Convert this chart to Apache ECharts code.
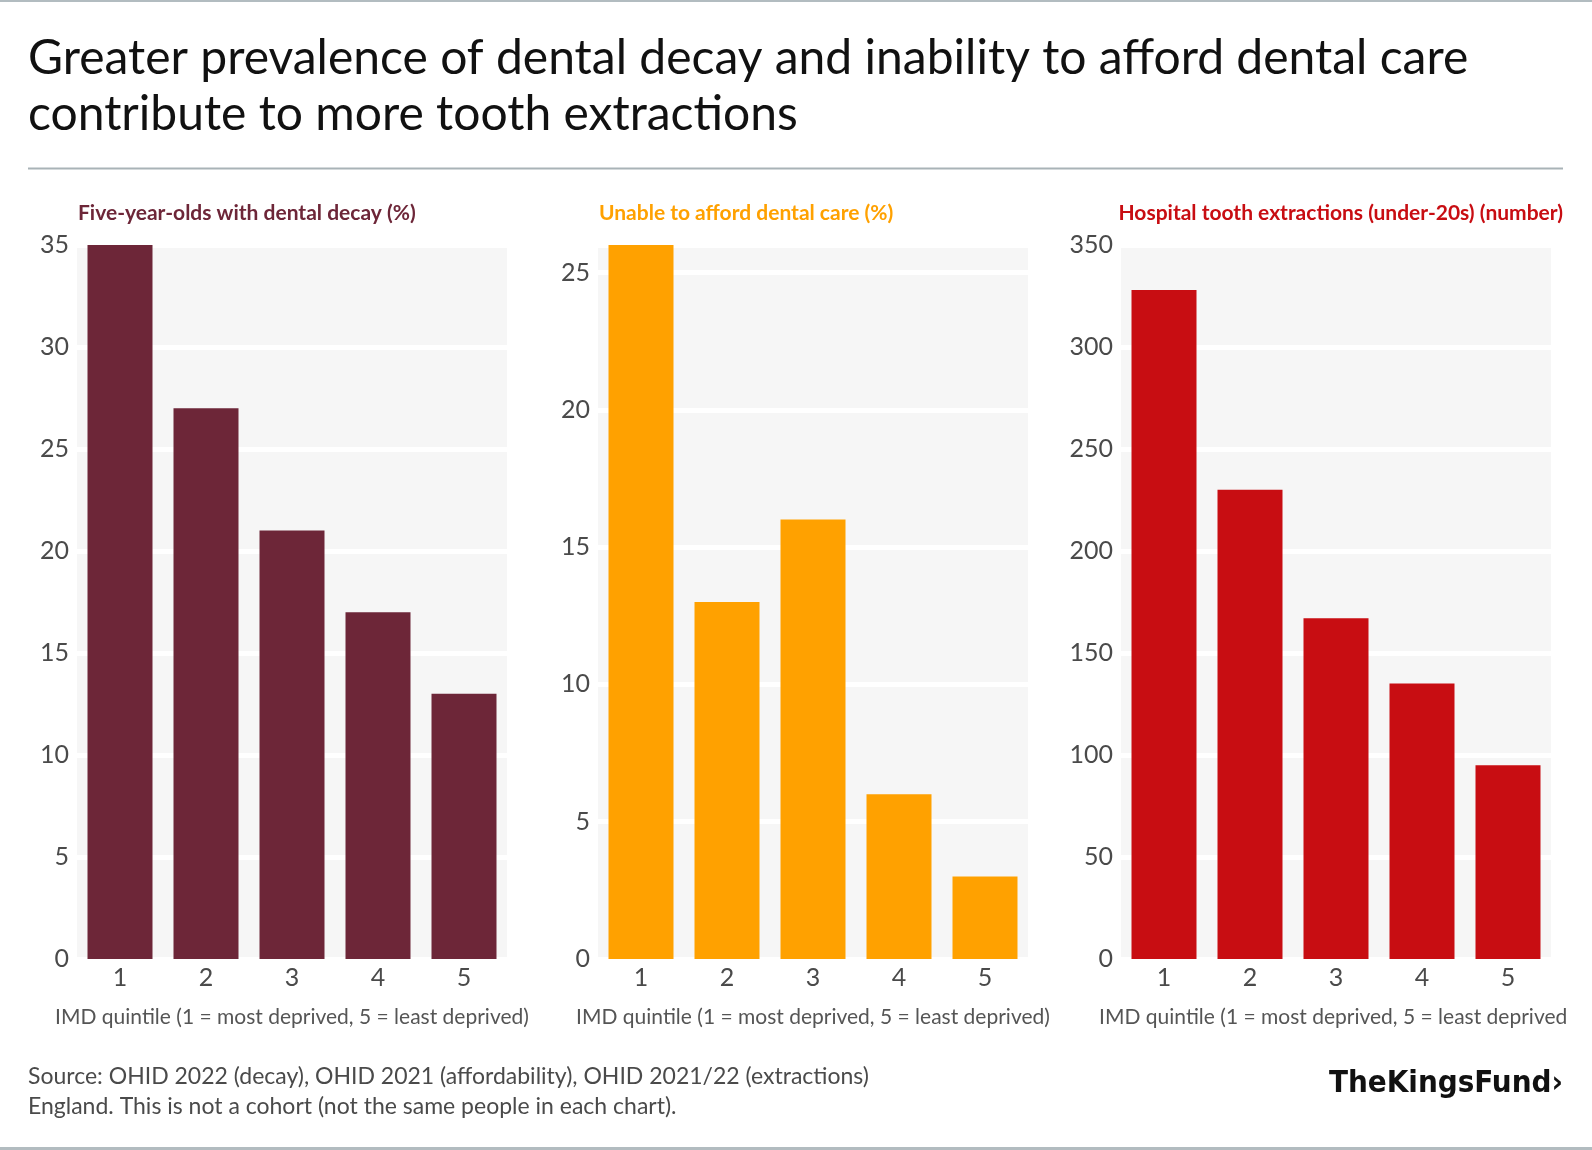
<!DOCTYPE html>
<html>
<head>
<meta charset="utf-8">
<script src="https://cdn.jsdelivr.net/npm/echarts@6/dist/echarts.min.js"></script>
<style>
  html, body { margin: 0; padding: 0; background: #fff; }
  #page { position: relative; width: 1592px; height: 1150px; overflow: hidden; background: #fff; }
  #chart { position: absolute; left: 0; top: 0; width: 1566px; height: 1150px; }
  .rule { position: absolute; left: 0; width: 1592px; height: 2px; background: #b2bcc0; }
</style>
</head>
<body>
<div id="page">
  <div id="chart"></div>
  <div class="rule" style="top:0"></div>
  <div class="rule" style="top:1147px;height:3px"></div>
</div>
<script>
// IMD quintiles, 1 = most deprived
const quintiles = ['1', '2', '3', '4', '5']

// values
const decayPct = [35, 27, 21, 17, 13]
const unaffordablePct = [26, 13, 16, 6, 3]
const extractions = [328, 230, 167, 135, 95]

const panelTitles = [
  'Five-year-olds with dental decay (%)',
  'Unable to afford dental care (%)',
  'Hospital tooth extractions (under-20s) (number)',
]
const axisMax = [35, 26, 350]
const axisStep = [5, 5, 50]

const colors = ['#6d2638', '#ffa100', '#c80d12']
const FONT = 'Lato'
const xName = 'IMD quintile (1 = most deprived, 5 = least deprived)'
const gridLefts = [77, 598, 1121]

const chart = echarts.init(document.getElementById('chart'), null, { renderer: 'canvas' })

const grids = gridLefts.map(left => ({
  left: left, top: 245, width: 430, height: 714,
  outerBoundsMode: 'none',
  containLabel: false,
  show: true, backgroundColor: '#f6f6f6', borderWidth: 0,
}))

const xAxes = gridLefts.map((_, i) => ({
  type: 'category',
  gridIndex: i,
  data: quintiles,
  axisLine: { show: false },
  axisTick: { show: false },
  axisLabel: { fontFamily: FONT, fontSize: 25, color: '#4a4a4a', margin: 6 },
  name: xName,
  nameLocation: 'middle',
  nameGap: 48,
  nameTextStyle: { fontFamily: FONT, fontSize: 21, color: '#555' },
}))

const yAxes = gridLefts.map((_, i) => ({
  type: 'value',
  gridIndex: i,
  min: 0,
  max: axisMax[i],
  interval: axisStep[i],
  axisLine: { show: false },
  axisTick: { show: false },
  axisLabel: {
    fontFamily: FONT, fontSize: 25, color: '#4a4a4a', margin: 8,
    showMaxLabel: axisMax[i] % axisStep[i] === 0,
  },
  splitLine: { lineStyle: { color: '#ffffff', width: 5 } },
}))

const seriesData = [decayPct, unaffordablePct, extractions]
const series = seriesData.map((d, i) => ({
  type: 'bar',
  xAxisIndex: i,
  yAxisIndex: i,
  data: d,
  barWidth: 65,
  itemStyle: { color: colors[i] },
  emphasis: { disabled: true },
}))

const panelTitleStyle = c => ({ fontFamily: FONT, fontSize: 21, fontWeight: 'bold', color: c, lineHeight: 26 })

const option = {
  animation: false,
  backgroundColor: 'transparent',
  title: [
    {
      text: 'Greater prevalence of dental decay and inability to afford dental care\ncontribute to more tooth extractions',
      left: 28, top: 31, padding: 0,
      textStyle: { fontFamily: FONT, fontSize: 48, fontWeight: 'normal', color: '#111', lineHeight: 56 },
    },
    { text: panelTitles[0], left: 78, top: 200, padding: 0, textStyle: panelTitleStyle(colors[0]) },
    { text: panelTitles[1], left: 599, top: 200, padding: 0, textStyle: panelTitleStyle(colors[1]) },
    { text: panelTitles[2], right: 3, top: 200, padding: 0, textStyle: panelTitleStyle(colors[2]) },
  ],
  grid: grids,
  xAxis: xAxes,
  yAxis: yAxes,
  series: series,
  graphic: [
    {
      type: 'line',
      shape: { x1: 28, y1: 168.5, x2: 1563, y2: 168.5 },
      style: { stroke: '#a9b3b7', lineWidth: 2 },
    },
    {
      type: 'text',
      left: 28, top: 1062,
      style: {
        text: 'Source: OHID 2022 (decay), OHID 2021 (affordability), OHID 2021/22 (extractions)\nEngland. This is not a cohort (not the same people in each chart).',
        font: '23px ' + FONT,
        fill: '#4a4a4a',
        lineHeight: 30,
      },
    },
    {
      type: 'text',
      right: 3, top: 1068,
      style: {
        text: 'TheKingsFund\u203a',
        font: 'bold 31px "DejaVu Sans Condensed"',
        fill: '#111',
      },
    },
  ],
}

chart.setOption(option)
</script>
</body>
</html>
